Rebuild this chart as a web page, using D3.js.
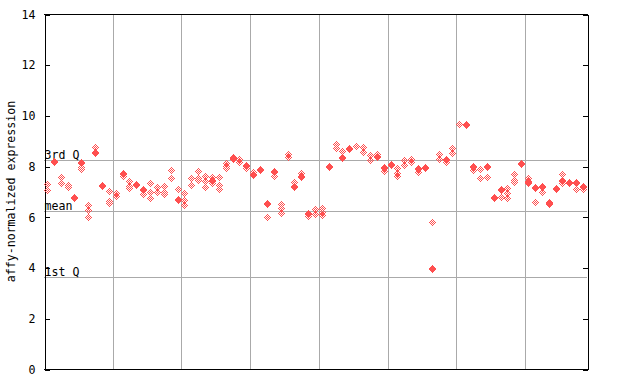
<!DOCTYPE html>
<html>
<head>
<meta charset="utf-8">
<script src="https://cdn.jsdelivr.net/npm/d3@7/dist/d3.min.js"></script>
<style>
  html, body { margin: 0; padding: 0; background: #fff; }
  svg { display: block; }
  text { font-family: "DejaVu Sans Mono", "Liberation Mono", monospace; font-size: 11.6px; fill: #000; }
</style>
</head>
<body>
<svg id="chart" width="640" height="384"></svg>
<script>
// ---- data ----
const sampleValues = [
  [7.30, 7.05], [8.22, 8.18], [7.56, 7.33], [7.25, 7.17], [6.80, 6.76],
  [8.16, 8.12, 7.98, 7.87], [6.47, 6.27, 6.00], [8.75, 8.57, 8.53], [7.25, 7.21], [7.02, 6.64, 6.56],
  [6.93, 6.82], [7.74, 7.70, 7.60], [7.42, 7.20, 7.14], [7.28, 7.24], [7.09, 7.05, 6.90],
  [7.35, 6.99, 6.73], [7.16, 6.97], [7.22, 6.97, 6.90], [7.83, 7.52], [7.08, 6.70, 6.66],
  [6.93, 6.66, 6.46], [7.52, 7.25], [7.81, 7.52, 7.45], [7.61, 7.42, 7.16], [7.56, 7.45, 7.41, 7.32],
  [7.56, 7.26, 7.09], [8.14, 8.00, 7.91], [8.38, 8.34, 8.27], [8.27, 8.18], [8.04, 8.00, 7.92],
  [7.78, 7.70, 7.66], [7.89, 7.85], [6.53, 6.49, 5.98], [7.80, 7.76, 7.62], [6.50, 6.33, 6.17],
  [8.47, 8.35], [7.39, 7.21, 7.17], [7.72, 7.60, 7.56], [6.14, 6.10, 6.02], [6.30, 6.12],
  [6.34, 6.20, 6.07], [8.02, 7.98], [8.87, 8.70], [8.58, 8.35, 8.31], [8.73, 8.66],
  [8.79], [8.74, 8.57], [8.44, 8.24], [8.47, 8.39, 8.35], [7.97, 7.93, 7.81],
  [8.10, 8.06], [7.92, 7.72, 7.62], [8.24, 8.04], [8.27, 8.15], [7.91, 7.87, 7.78],
  [7.97, 7.93], [5.78, 3.98, 3.94], [8.47, 8.27], [8.30, 8.26, 8.15], [8.72, 8.50],
  [9.66], [9.68, 9.64], [8.02, 7.98, 7.85], [7.87, 7.52], [8.00, 7.96, 7.56],
  [6.80, 6.73], [7.08, 7.04, 6.80], [7.13, 6.93, 6.76], [7.69, 7.45, 7.39], [8.11, 8.08],
  [7.54, 7.43, 7.39, 7.32], [7.17, 7.13, 6.57], [7.21, 7.17, 6.97], [6.60, 6.55, 6.51], [7.13, 7.10],
  [7.69, 7.47, 7.43, 7.35], [7.39, 7.35], [7.37, 7.33, 7.09], [7.21, 7.17, 7.09]
];
const groupBreaks = [10, 20, 30, 40, 50, 60, 70];
const yTicks = [0, 2, 4, 6, 8, 10, 12, 14];
const refLabels = ["3rd Q", "mean", "1st Q"];
const refValues = [8.23, 6.23, 3.62];
const yTitle = "affy-normalized expression";

// ---- layout ----
const L = 44, R = 587, T = 14, B = 369;
const red = "#ff4f4f", grid = "#aaaaaa";
const svg = d3.select("#chart");

const x = d3.scaleBand().domain(d3.range(sampleValues.length)).range([L, R]);
const y = d3.scaleLinear().domain([0, 14]).range([B, T]);

// vertical group separators
svg.append("g").selectAll("line").data(groupBreaks).join("line")
  .attr("x1", d => Math.round(x(d)) + 0.5).attr("x2", d => Math.round(x(d)) + 0.5)
  .attr("y1", T).attr("y2", B)
  .attr("stroke", grid).attr("stroke-width", 1).attr("shape-rendering", "crispEdges");

// quartile / mean lines
svg.append("g").selectAll("line").data(refValues).join("line")
  .attr("x1", L).attr("x2", R)
  .attr("y1", d => Math.round(y(d)) + 0.5).attr("y2", d => Math.round(y(d)) + 0.5)
  .attr("stroke", grid).attr("stroke-width", 1).attr("shape-rendering", "crispEdges");

svg.append("g").selectAll("text").data(refLabels).join("text")
  .attr("x", L + 0.5).attr("y", (d, i) => Math.round(y(refValues[i])) - 1)
  .text(d => d);

// frame + axes
const leftAxis = d3.axisLeft(y).tickValues(yTicks).tickSize(-5).tickSizeOuter(0).tickPadding(9).tickFormat(d3.format("d"));
const gl = svg.append("g").attr("transform", `translate(${L + 0.5},0.5)`).call(leftAxis);
const rightAxis = d3.axisRight(y).tickValues(yTicks).tickSize(-5).tickSizeOuter(0).tickFormat("");
const gr = svg.append("g").attr("transform", `translate(${R + 0.5},0.5)`).call(rightAxis);
[gl, gr].forEach(g => {
  g.selectAll("path, line").attr("stroke", "#000").attr("shape-rendering", "crispEdges");
  g.selectAll("text").style("font-family", '"DejaVu Sans Mono", monospace').style("font-size", "11.6px").attr("fill", "#000");
});
svg.append("line").attr("x1", L).attr("x2", R + 1).attr("y1", T + 0.5).attr("y2", T + 0.5)
  .attr("stroke", "#000").attr("shape-rendering", "crispEdges");
svg.append("line").attr("x1", L).attr("x2", R + 1).attr("y1", B + 0.5).attr("y2", B + 0.5)
  .attr("stroke", "#000").attr("shape-rendering", "crispEdges");

// y title
svg.append("text")
  .attr("transform", `translate(15,${(T + B) / 2}) rotate(-90)`)
  .attr("text-anchor", "middle")
  .text(yTitle);

// checkered diamond marker (pixels with odd manhattan parity)
let markerPath = "";
for (let dy = -3; dy <= 3; dy++) {
  for (let dx = -3; dx <= 3; dx++) {
    if (Math.abs(dx) + Math.abs(dy) <= 3 && Math.abs(dx + dy) % 2 === 1) {
      markerPath += `M${dx},${dy}h1v1h-1z`;
    }
  }
}

const points = [];
sampleValues.forEach((vals, i) => vals.forEach(v => points.push({ i, v })));

svg.append("g").selectAll("path").data(points).join("path")
  .attr("d", markerPath)
  .attr("transform", d => `translate(${Math.floor(x(d.i) + x.bandwidth() / 2)},${Math.round(y(d.v))})`)
  .attr("fill", red)
  .attr("shape-rendering", "crispEdges");
</script>
</body>
</html>
